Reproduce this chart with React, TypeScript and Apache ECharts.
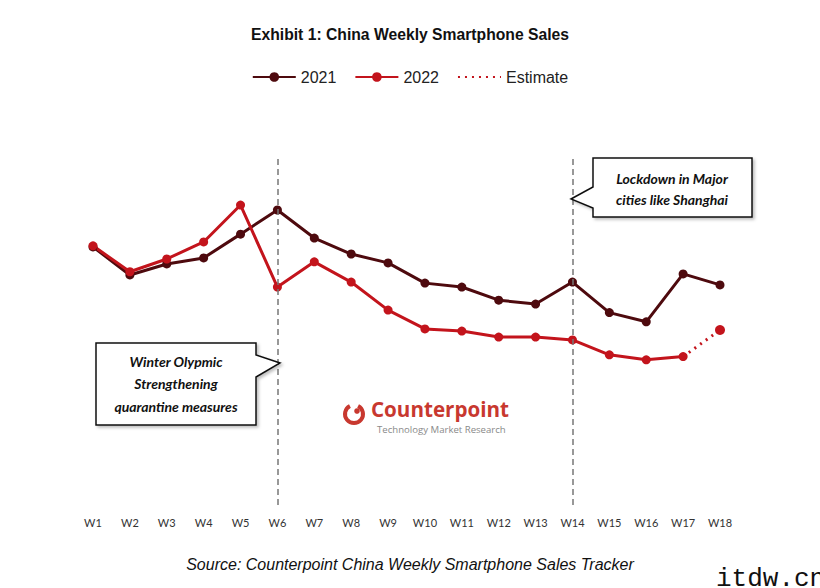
import React, { useEffect, useRef } from "react";
import * as echarts from "echarts";

const weeks = ["W1","W2","W3","W4","W5","W6","W7","W8","W9","W10","W11","W12","W13","W14","W15","W16","W17","W18"];
const sales2021 = [72.7, 64.8, 67.9, 69.6, 76.3, 83.1, 75.2, 70.7, 68.2, 62.5, 61.4, 57.7, 56.6, 62.8, 54.2, 51.6, 65.1, 62.0];
const sales2022 = [73.0, 65.7, 69.3, 74.1, 84.5, 61.4, 68.5, 62.8, 54.9, 49.6, 49.0, 47.3, 47.3, 46.5, 42.3, 40.9, 41.8, null];
const estimate2022 = [null, null, null, null, null, null, null, null, null, null, null, null, null, null, null, null, 41.8, 49.3];
const eventWeeks = ["W6", "W14"];

const C2021 = "#4e0a0e";
const C2022 = "#c3141c";

export default function App() {
  const ref = useRef<HTMLDivElement>(null);
  useEffect(() => {
    const chart = echarts.init(ref.current!, null, { renderer: "svg" });
    const calloutFont = "italic bold 14px Lato";
    const lastIdx = estimate2022.length - 1;
    chart.setOption({
      animation: false,
      backgroundColor: "#ffffff",
      title: {
        text: "Exhibit 1: China Weekly Smartphone Sales",
        left: "center",
        top: 21,
        textStyle: { fontFamily: "Liberation Sans", fontSize: 15.7, fontWeight: "bold", color: "#111" },
      },
      legend: {
        top: 64,
        left: "center",
        itemWidth: 43,
        itemHeight: 12,
        itemGap: 18,
        textStyle: { fontFamily: "Liberation Sans", fontSize: 16, color: "#222" },
        data: ["2021", "2022", { name: "Estimate", itemStyle: { opacity: 0 } }],
      },
      grid: { left: 93, right: 100, top: 150, bottom: 83 },
      xAxis: {
        type: "category",
        data: weeks,
        boundaryGap: false,
        axisLine: { show: false },
        axisTick: { show: false },
        splitLine: { show: false },
        axisLabel: { margin: 12, fontFamily: "Lato", fontSize: 11, color: "#333" },
      },
      yAxis: { type: "value", min: 0, max: 100, show: false, splitLine: { show: false } },
      series: [
        {
          name: "2021",
          type: "line",
          data: sales2021,
          color: C2021,
          symbol: "circle",
          symbolSize: 9,
          lineStyle: { width: 3, color: C2021 },
          itemStyle: { color: C2021 },
          markLine: {
            silent: true,
            symbol: "none",
            label: { show: false },
            lineStyle: { color: "#777", type: [6, 4], width: 1.5 },
            data: eventWeeks.map((w) => [{ coord: [w, 0] }, { coord: [w, 97.7] }]),
          },
        },
        {
          name: "2022",
          type: "line",
          data: sales2022,
          color: C2022,
          symbol: "circle",
          symbolSize: 9,
          lineStyle: { width: 3, color: C2022 },
          itemStyle: { color: C2022 },
        },
        {
          name: "Estimate",
          type: "line",
          data: estimate2022,
          color: C2022,
          symbol: "none",
          lineStyle: { width: 3, color: C2022, type: [2, 5] },
          itemStyle: { color: C2022 },
        },
        {
          name: "Estimate point",
          type: "scatter",
          data: estimate2022.map((v, i) => (i === lastIdx ? v : null)),
          symbol: "circle",
          symbolSize: 10,
          itemStyle: { color: C2022, opacity: 1 },
        },
      ],
      graphic: [
        {
          type: "polygon",
          shape: { points: [[593, 158], [752, 158], [752, 217], [593, 217], [593, 208], [571, 199], [593, 187]] },
          style: { fill: "#fff", stroke: "#111", lineWidth: 1.5, shadowColor: "rgba(0,0,0,0.25)", shadowBlur: 3, shadowOffsetX: 2, shadowOffsetY: 2 },
          z: 10,
        },
        { type: "text", x: 672, y: 178, style: { text: "Lockdown in Major", font: calloutFont, fill: "#111", align: "center", verticalAlign: "middle" }, z: 11 },
        { type: "text", x: 672, y: 199, style: { text: "cities like Shanghai", font: calloutFont, fill: "#111", align: "center", verticalAlign: "middle" }, z: 11 },
        {
          type: "polygon",
          shape: { points: [[96, 343], [256, 343], [256, 355], [280, 363], [256, 377], [256, 425], [96, 425]] },
          style: { fill: "#fff", stroke: "#111", lineWidth: 1.5, shadowColor: "rgba(0,0,0,0.25)", shadowBlur: 3, shadowOffsetX: 2, shadowOffsetY: 2 },
          z: 10,
        },
        { type: "text", x: 176, y: 361, style: { text: "Winter Olypmic", font: calloutFont, fill: "#111", align: "center", verticalAlign: "middle" }, z: 11 },
        { type: "text", x: 176, y: 383, style: { text: "Strengthening", font: calloutFont, fill: "#111", align: "center", verticalAlign: "middle" }, z: 11 },
        { type: "text", x: 176, y: 406, style: { text: "quarantine measures", font: calloutFont, fill: "#111", align: "center", verticalAlign: "middle" }, z: 11 },
        {
          type: "arc",
          shape: { cx: 354, cy: 414, r: 9, startAngle: -Math.PI * 0.35, endAngle: -Math.PI * 0.65, clockwise: true },
          style: { stroke: "#c8382f", lineWidth: 4, fill: "none" },
          z: 5,
        },
        { type: "circle", shape: { cx: 357, cy: 411, r: 2.8 }, style: { fill: "#c8382f" }, z: 5 },
        { type: "text", x: 371, y: 409, style: { text: "Counterpoint", font: "bold 20.6px 'Open Sans'", fill: "#c8382f", verticalAlign: "middle" }, z: 5 },
        { type: "text", x: 377, y: 429.5, style: { text: "Technology Market Research", font: "9.6px 'Open Sans'", fill: "#8a8a8a", verticalAlign: "middle" }, z: 5 },
        {
          type: "text",
          left: "center",
          top: 556,
          style: { text: "Source: Counterpoint China Weekly Smartphone Sales Tracker", font: "italic 16px 'Liberation Sans'", fill: "#111" },
        },
        { type: "text", x: 716, y: 566, style: { text: "itdw.cn", font: "26px 'Liberation Mono'", fill: "#111" }, z: 20 },
      ],
    });
    return () => chart.dispose();
  }, []);
  return <div ref={ref} style={{ width: 820, height: 588, position: "fixed", left: 0, top: 0 }} />;
}
